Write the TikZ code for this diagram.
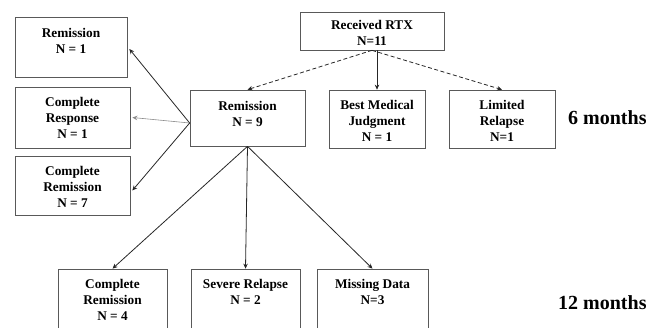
\documentclass[tikz,border=0pt]{standalone}
\usepackage{fontspec}
\setmainfont{Liberation Serif}
\usetikzlibrary{arrows.meta}
\begin{document}
\begin{tikzpicture}[x=1pt,y=-1pt,
  box/.style={draw=black!65, line width=0.7pt, inner sep=0pt, rectangle},
  txt/.style={anchor=north, align=center, inner sep=0pt, font=\bfseries\fontsize{13.3}{16}\selectfont},
  arr/.style={-{Stealth[length=5pt,width=4.5pt]}, line width=0.8pt, black!85},
  darr/.style={arr, dash pattern=on 4pt off 2.5pt}]
\useasboundingbox (0,0) rectangle (667,327);
% 6-month row
\node[box, minimum width=144pt, minimum height=38pt] (rtx) at (372,31) {};
\node[txt] at ([yshift=-8pt]rtx.north) {Received RTX\\N=11};
\node[box, minimum width=115pt, minimum height=56pt] (rem) at (247.5,118) {};
\node[txt] at ([yshift=-11pt]rem.north) {Remission\\N = 9};
\node[box, minimum width=96pt, minimum height=58pt] (bmj) at (377,119) {};
\node[txt] at ([yshift=-10pt]bmj.north) {Best Medical\\Judgment\\N = 1};
\node[box, minimum width=106pt, minimum height=58pt] (lim) at (502,119) {};
\node[txt] at ([yshift=-10pt]lim.north) {Limited\\Relapse\\N=1};
\node[anchor=west, inner sep=0pt, font=\bfseries\fontsize{20}{22}\selectfont] (m6) at (568,118) {6 months};
% left column
\node[box, minimum width=112pt, minimum height=60pt] (l1) at (71,47) {};
\node[txt] at ([yshift=-11pt]l1.north) {Remission\\N = 1};
\node[box, minimum width=115pt, minimum height=61pt] (l2) at (72.5,117.5) {};
\node[txt] at ([yshift=-10pt]l2.north) {Complete\\Response\\N = 1};
\node[box, minimum width=115pt, minimum height=59pt] (l3) at (72.5,185.5) {};
\node[txt] at ([yshift=-10pt]l3.north) {Complete\\Remission\\N = 7};
% 12-month row
\node[box, minimum width=109pt, minimum height=63pt] (b1) at (112.5,300.5) {};
\node[txt] at ([yshift=-10pt]b1.north) {Complete\\Remission\\N = 4};
\node[box, minimum width=109pt, minimum height=63pt] (b2) at (245.5,300.5) {};
\node[txt] at ([yshift=-10pt]b2.north) {Severe Relapse\\N = 2};
\node[box, minimum width=111pt, minimum height=63pt] (b3) at (372.5,300.5) {};
\node[txt] at ([yshift=-10pt]b3.north) {Missing Data\\N=3};
\node[anchor=west, inner sep=0pt, font=\bfseries\fontsize{20}{22}\selectfont] (m12) at (558,303) {12 months};
% connectors
\draw[darr] (rtx.south) -- (rem.north);
\draw[arr] (rtx.south -| bmj.north) -- (bmj.north);
\draw[darr] (rtx.south) -- (lim.north);
\coordinate (remw) at ([yshift=-5pt]rem.west);
\draw[arr] (remw) -- ([xshift=2pt,yshift=-2pt]l1.east);
\draw[arr, black!45, line width=0.6pt] (remw) -- ([xshift=2pt]l2.east);
\draw[arr] (remw) -- ([xshift=2pt,yshift=-5pt]l3.east);
\draw[arr] (rem.south) -- (b1.north);
\draw[arr] (rem.south) -- (b2.north);
\draw[arr] (rem.south) -- (b3.north);
\end{tikzpicture}
\end{document}
